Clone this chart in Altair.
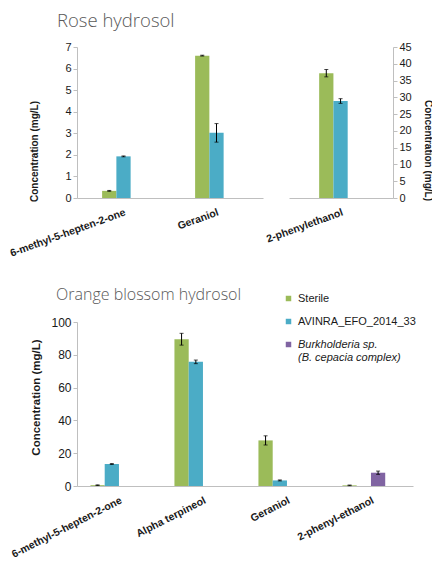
import altair as alt
import pandas as pd

series_names = ["Sterile", "AVINRA_EFO_2014_33", "Burkholderia sp. (B. cepacia complex)"]
series_colors = ["#9BBB59", "#4BACC6", "#8064A2"]

# Rose hydrosol, left axis (mg/L)
rose_left_compounds = ["6-methyl-5-hepten-2-one", "Geraniol"]
rose_left_sterile = [0.33, 6.6]
rose_left_sterile_err = [0.02, 0.02]
rose_left_avinra = [1.93, 3.02]
rose_left_avinra_err = [0.02, 0.43]

# Rose hydrosol, right axis (mg/L)
rose_right_compounds = ["2-phenylethanol"]
rose_right_sterile = [37.2]
rose_right_sterile_err = [1.1]
rose_right_avinra = [28.9]
rose_right_avinra_err = [0.7]

# Orange blossom hydrosol (mg/L)
orange_compounds = ["6-methyl-5-hepten-2-one", "Alpha terpineol", "Geraniol", "2-phenyl-ethanol"]
orange_sterile = [0.5, 89.5, 27.8, 0.4]
orange_sterile_err = [0.2, 3.6, 2.8, 0.2]
orange_avinra = [13.4, 75.7, 3.4, None]
orange_avinra_err = [0.3, 1.1, 0.3, None]
orange_burk = [None, None, None, 8.1]
orange_burk_err = [None, None, None, 1.0]

rose_left_ticks = [0, 1, 2, 3, 4, 5, 6, 7]
rose_right_ticks = [0, 5, 10, 15, 20, 25, 30, 35, 40, 45]
orange_ticks = [0, 20, 40, 60, 80, 100]


def to_long(compounds, groups):
    rows = []
    for name, vals, errs in groups:
        for c, v, e in zip(compounds, vals, errs):
            if v is None:
                continue
            rows.append(dict(compound=c, series=name, value=v, lo=v - e, hi=v + e))
    return pd.DataFrame(rows)


df_tl = to_long(rose_left_compounds, [(series_names[0], rose_left_sterile, rose_left_sterile_err),
                                      (series_names[1], rose_left_avinra, rose_left_avinra_err)])
df_tr = to_long(rose_right_compounds, [(series_names[0], rose_right_sterile, rose_right_sterile_err),
                                       (series_names[1], rose_right_avinra, rose_right_avinra_err)])
df_b = to_long(orange_compounds, [(series_names[0], orange_sterile, orange_sterile_err),
                                  (series_names[1], orange_avinra, orange_avinra_err),
                                  (series_names[2], orange_burk, orange_burk_err)])

FONT = "Liberation Sans"
AX = "#BFBFBF"
TXT = "#1a1a1a"
YT = "Concentration (mg/L)"


def panel(df, compounds, n_series, width, height, pad_inner, domain, ticks, yaxis_kw, angle, xlab_size, legend=None):
    sn = series_names[:n_series]
    sc = series_colors[:n_series]
    # band width of one compound group (outer padding is half the inner one, so step = width / n)
    group_px = width / len(compounds) * (1 - pad_inner)
    x = alt.X("compound:N", sort=compounds, title=None,
              scale=alt.Scale(type="band", paddingInner=pad_inner, paddingOuter=pad_inner / 2),
              axis=alt.Axis(labelAngle=angle, labelFont=FONT, labelFontWeight="bold", labelFontSize=xlab_size,
                            labelColor=TXT, labelPadding=9, ticks=False, domainColor=AX, labelLimit=300))
    xo = alt.XOffset("series:N", scale=alt.Scale(type="band", domain=sn, range=[0, group_px],
                                                 paddingInner=0, paddingOuter=0))
    yaxis = alt.Axis(grid=False, values=ticks, domainColor=AX, tickColor=AX, tickSize=4, labelFont=FONT,
                     labelColor=TXT, titleFont=FONT, titleFontWeight="bold", titleColor=TXT, **yaxis_kw)
    ys = alt.Scale(domain=domain, nice=False)
    base = alt.Chart(df)
    bars = base.mark_bar().encode(
        x=x, xOffset=xo,
        y=alt.Y("value:Q", scale=ys, axis=yaxis, title=YT),
        color=alt.Color("series:N", scale=alt.Scale(domain=sn, range=sc), legend=legend),
    )
    rule = base.mark_rule(color="black", strokeWidth=1).encode(
        x=x, xOffset=xo, y=alt.Y("lo:Q", scale=ys, axis=yaxis, title=YT), y2="hi:Q")
    cap_lo = base.mark_tick(color="black", thickness=1, size=4).encode(
        x=x, xOffset=xo, y=alt.Y("lo:Q", scale=ys, axis=yaxis, title=YT))
    cap_hi = base.mark_tick(color="black", thickness=1, size=4).encode(
        x=x, xOffset=xo, y=alt.Y("hi:Q", scale=ys, axis=yaxis, title=YT))
    return alt.layer(bars, rule, cap_lo, cap_hi).properties(width=width, height=height)


def title_kw(size, dx):
    return dict(anchor="start", frame="group", font="Open Sans", fontWeight=300, fontSize=size,
                color="#595959", dx=dx)


top_left = panel(df_tl, rose_left_compounds, 2, 186, 151, 0.54, [0, 7], rose_left_ticks,
                 dict(labelFontSize=11, titleFontSize=10, titleX=-38, titleY=104), -20, 10.5)
top_right = panel(df_tr, rose_right_compounds, 2, 104, 151, 0.58, [0, 45], rose_right_ticks,
                  dict(orient="right", labelFontSize=11, titleFontSize=10, titleX=29, titleY=103, titleAngle=90),
                  -20, 10.5)

top = alt.hconcat(top_left, top_right, spacing=26, bounds="flush").properties(
    title=alt.TitleParams("Rose hydrosol", offset=11, **title_kw(18.5, -20))
)

legend = alt.Legend(title=None, orient="none", legendX=206, legendY=-29, symbolType="square", symbolSize=30,
                    symbolStrokeWidth=0, labelFont=FONT, labelFontSize=11, labelColor=TXT, labelOffset=4,
                    rowPadding=11, labelLimit=300,
                    labelExpr="indexof(datum.label, 'Burk') == 0 ? ['Burkholderia sp.', '(B. cepacia complex)'] : datum.label",
                    labelFontStyle=alt.ExprRef(expr="indexof(datum.label, 'Burk') == 0 ? 'italic' : 'normal'"))

bottom = panel(df_b, orange_compounds, 3, 336, 164, 0.32, [0, 100], orange_ticks,
               dict(labelFontSize=12, titleFontSize=11.5, titleX=-36, titleY=75), -27, 10.5, legend=legend
               ).properties(title=alt.TitleParams("Orange blossom hydrosol", offset=-10, **title_kw(16, -21)))

# with flush bounds the nested top row counts as zero height, so the spacing spans its plot height too
chart = alt.vconcat(top, bottom, spacing=275, bounds="flush").resolve_scale(color="independent").resolve_legend(
    color="independent"
).properties(
    padding={"left": 0, "top": 3, "right": 0, "bottom": 0},
    background="white",
).configure_view(stroke=None)

chart.save("out.html", embed_options={"renderer": "svg", "actions": False})
